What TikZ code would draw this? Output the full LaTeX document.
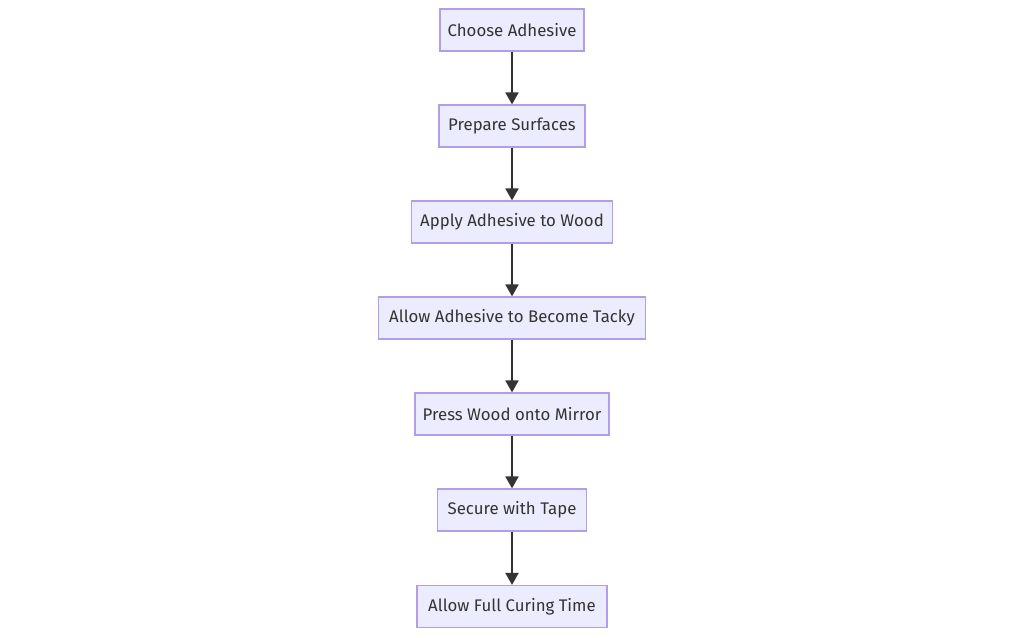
\documentclass[tikz,border=0pt]{standalone}
\usepackage{fontspec}
\setmainfont{Fira Sans}
\usetikzlibrary{arrows.meta}
\definecolor{nodefill}{HTML}{ECECFF}
\definecolor{nodestroke}{HTML}{B39DEB}
\definecolor{textcol}{HTML}{333333}
\tikzset{
  stepbox/.style={draw=nodestroke, fill=nodefill, line width=1.2pt, text=textcol,
    minimum height=42pt, inner sep=0pt, font=\fontsize{16.8}{20}\selectfont},
  flow/.style={draw=textcol, line width=2pt, -{Triangle[length=12pt,width=13pt]}}
}
\begin{document}
\begin{tikzpicture}[x=1pt,y=-1pt]
\useasboundingbox (0,0) rectangle (1024,637);
\node[stepbox, minimum width=144pt] (n1) at (512,30) {Choose Adhesive};
\node[stepbox, minimum width=146pt] (n2) at (512,126) {Prepare Surfaces};
\node[stepbox, minimum width=201pt] (n3) at (512,222) {Apply Adhesive to Wood};
\node[stepbox, minimum width=267pt] (n4) at (512,318) {Allow Adhesive to Become Tacky};
\node[stepbox, minimum width=194pt] (n5) at (512,414) {Press Wood onto Mirror};
\node[stepbox, minimum width=149pt] (n6) at (512,510) {Secure with Tape};
\node[stepbox, minimum width=190pt] (n7) at (512,606.5) {Allow Full Curing Time};
\draw[flow] (n1) -- (n2);
\draw[flow] (n2) -- (n3);
\draw[flow] (n3) -- (n4);
\draw[flow] (n4) -- (n5);
\draw[flow] (n5) -- (n6);
\draw[flow] (n6) -- (n7);
\end{tikzpicture}
\end{document}
